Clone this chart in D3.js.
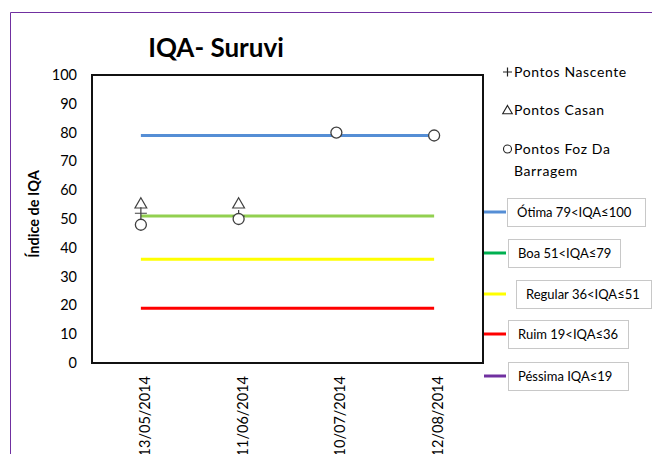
<!DOCTYPE html>
<html>
<head>
<meta charset="utf-8">
<script src="https://cdn.jsdelivr.net/npm/d3@7"></script>
<style>
  body { margin: 0; background: #fff; }
  text { font-family: Lato, "Open Sans", sans-serif; }
</style>
</head>
<body>
<div id="chart"></div>
<script>
// data
var dates = ["13/05/2014", "11/06/2014", "10/07/2014", "12/08/2014"];
var nascente = [52, 51, null, null];
var casan = [55, 55, null, null];
var foz = [48, 50, 80, 79];
var yTicks = [0, 10, 20, 30, 40, 50, 60, 70, 80, 90, 100];

// quality classes: limit line + legend
var classNames = ["Ótima 79<IQA≤100", "Boa 51<IQA≤79", "Regular 36<IQA≤51", "Ruim 19<IQA≤36", "Péssima IQA≤19"];
var classLimits = [79, 51, 36, 19, null];
var lineColors = ["#558ED5", "#92D050", "#FFFF00", "#FF0000", "#7030A0"];
var legendColors = ["#558ED5", "#00B050", "#FFFF00", "#FF0000", "#7030A0"];

var W = 652, H = 454;
var plot = {left: 92, top: 75, right: 483, bottom: 363};

var svg = d3.select("#chart").append("svg")
    .attr("width", W)
    .attr("height", H);

// outer purple frame (left and top edges visible)
svg.append("path")
    .attr("d", "M10.5," + H + " V12.5 H" + W)
    .attr("fill", "none")
    .attr("stroke", "#7030A0")
    .attr("stroke-width", 1);

var x = d3.scaleBand()
    .domain(dates)
    .range([plot.left, plot.right]);

var y = d3.scaleLinear()
    .domain([0, 100])
    .range([plot.bottom, plot.top]);

function cx(d) { return x(d) + x.bandwidth() / 2; }

// title
svg.append("text")
    .attr("x", 216)
    .attr("y", 57)
    .attr("text-anchor", "middle")
    .style("font-size", "26px")
    .style("font-weight", "bold")
    .attr("fill", "#000")
    .text("IQA- Suruvi");

// y axis labels
svg.append("g").selectAll("text")
    .data(yTicks)
    .enter().append("text")
    .attr("x", 77)
    .attr("y", function(d) { return y(d); })
    .attr("dy", "0.35em")
    .attr("text-anchor", "end")
    .style("font-size", "14.5px")
    .attr("fill", "#000")
    .text(function(d) { return d; });

svg.append("text")
    .attr("transform", "translate(39," + 214 + ") rotate(-90)")
    .attr("text-anchor", "middle")
    .style("font-size", "14.5px")
    .style("font-weight", "bold")
    .attr("fill", "#000")
    .text("Índice de IQA");

// x labels, rotated
svg.append("g").selectAll("text")
    .data(dates)
    .enter().append("text")
    .attr("transform", function(d) { return "translate(" + (cx(d) + 9) + ",376) rotate(-90)"; })
    .attr("text-anchor", "end")
    .style("font-size", "14.5px")
    .attr("fill", "#000")
    .text(function(d) { return d; });

// class limit lines
var first = cx(dates[0]), last = cx(dates[dates.length - 1]);
svg.append("g").selectAll("line")
    .data(classLimits.filter(function(d) { return d !== null; }))
    .enter().append("line")
    .attr("x1", first)
    .attr("x2", last)
    .attr("y1", function(d) { return y(d); })
    .attr("y2", function(d) { return y(d); })
    .attr("stroke", function(d, i) { return lineColors[i]; })
    .attr("stroke-width", 3);

// plot frame
svg.append("rect")
    .attr("x", plot.left)
    .attr("y", plot.top)
    .attr("width", plot.right - plot.left)
    .attr("height", plot.bottom - plot.top)
    .attr("fill", "none")
    .attr("stroke", "#111")
    .attr("stroke-width", 2);

var mark = "#404040";

// Pontos Casan - triangles
svg.append("g").selectAll("path")
    .data(dates.map(function(d, i) { return {date: d, v: casan[i]}; }).filter(function(d) { return d.v !== null; }))
    .enter().append("path")
    .attr("d", d3.symbol().type(d3.symbolTriangle).size(60))
    .attr("transform", function(d) { return "translate(" + cx(d.date) + "," + y(d.v) + ")"; })
    .attr("fill", "#fff")
    .attr("stroke", mark)
    .attr("stroke-width", 1.2);

// Pontos Nascente - plus
svg.append("g").selectAll("path")
    .data(dates.map(function(d, i) { return {date: d, v: nascente[i]}; }).filter(function(d) { return d.v !== null; }))
    .enter().append("path")
    .attr("d", "M-6,0H6M0,-6V6")
    .attr("transform", function(d) { return "translate(" + cx(d.date) + "," + y(d.v) + ")"; })
    .attr("fill", "none")
    .attr("stroke", mark)
    .attr("stroke-width", 1.2);

// Pontos Foz Da Barragem - circles
svg.append("g").selectAll("circle")
    .data(dates.map(function(d, i) { return {date: d, v: foz[i]}; }).filter(function(d) { return d.v !== null; }))
    .enter().append("circle")
    .attr("cx", function(d) { return cx(d.date); })
    .attr("cy", function(d) { return y(d.v); })
    .attr("r", 5.5)
    .attr("fill", "#fff")
    .attr("stroke", mark)
    .attr("stroke-width", 1.3);

// symbol legend
var symLeg = svg.append("g");
var symRows = [
  {label: ["Pontos Nascente"], y: 72, type: "plus"},
  {label: ["Pontos Casan"], y: 110, type: "tri"},
  {label: ["Pontos Foz Da", "Barragem"], y: 149, type: "circ"}
];
symRows.forEach(function(r) {
  if (r.type === "plus") {
    symLeg.append("path").attr("d", "M503,72H512M507.5,67.5V76.5")
      .attr("stroke", "#222").attr("stroke-width", 1.2).attr("fill", "none");
  } else if (r.type === "tri") {
    symLeg.append("path").attr("d", d3.symbol().type(d3.symbolTriangle).size(40))
      .attr("transform", "translate(507.5," + (r.y + 1) + ")")
      .attr("fill", "none").attr("stroke", "#222").attr("stroke-width", 1.1);
  } else {
    symLeg.append("circle").attr("cx", 507.5).attr("cy", r.y).attr("r", 4)
      .attr("fill", "none").attr("stroke", "#222").attr("stroke-width", 1.1);
  }
  r.label.forEach(function(t, k) {
    symLeg.append("text")
      .attr("x", 514)
      .attr("y", r.y + k * 22)
      .attr("dy", "0.35em")
      .style("font-size", "14px")
      .style("letter-spacing", "0.6px")
      .attr("fill", "#000")
      .text(t);
  });
});

// class legend boxes
var boxX = [507, 508, 516, 508, 508];
var boxW = [138, 112, 135, 120, 120];
var boxY = [198, 239, 280, 320, 362];
var leg = svg.append("g");
classNames.forEach(function(name, i) {
  var cy = boxY[i] + 14;
  leg.append("line")
    .attr("x1", 484).attr("x2", 506)
    .attr("y1", cy).attr("y2", cy)
    .attr("stroke", legendColors[i])
    .attr("stroke-width", 3);
  leg.append("rect")
    .attr("x", boxX[i] + 0.5).attr("y", boxY[i] + 0.5)
    .attr("width", boxW[i]).attr("height", 28)
    .attr("fill", "#fff")
    .attr("stroke", "#c8c8c8")
    .attr("stroke-width", 1);
  leg.append("text")
    .attr("x", boxX[i] + 10)
    .attr("y", cy)
    .attr("dy", "0.35em")
    .style("font-size", "13px")
    .attr("fill", "#000")
    .text(name);
});
</script>
</body>
</html>
